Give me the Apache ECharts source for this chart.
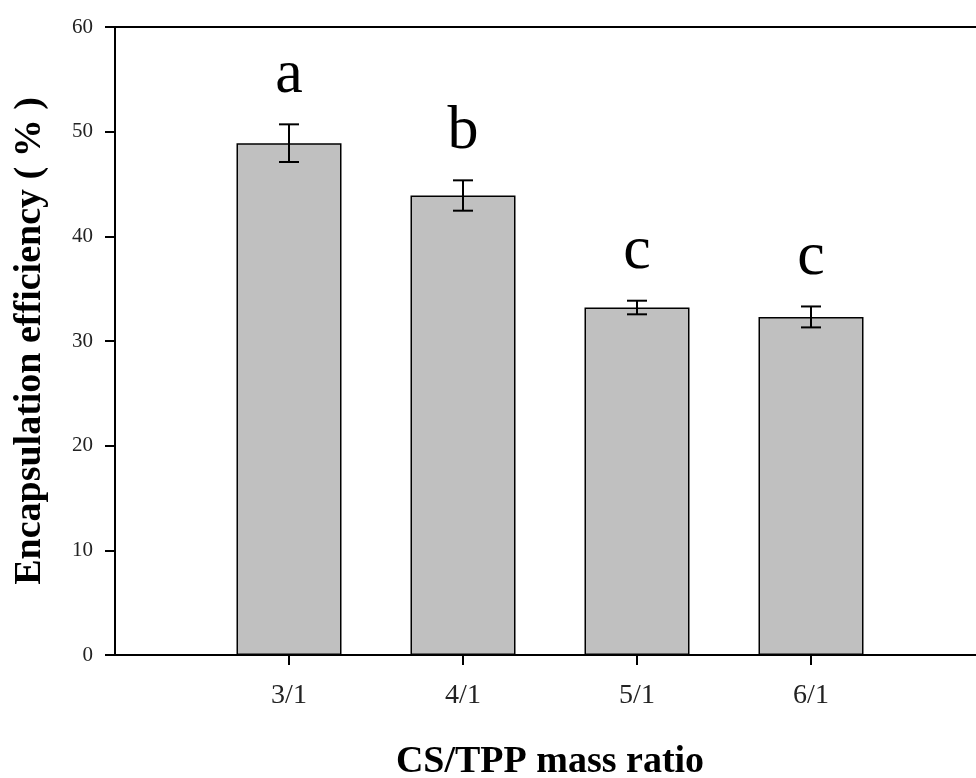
<!DOCTYPE html>
<html>
<head>
<meta charset="utf-8">
<script src="https://cdn.jsdelivr.net/npm/echarts@6/dist/echarts.min.js"></script>
<style>
  html, body { margin: 0; padding: 0; background: #fff; }
  #main { width: 976px; height: 778px; }
</style>
</head>
<body>
<div id="main"></div>
<script>
// CS/TPP mass ratio vs encapsulation efficiency
var categories = ['3/1', '4/1', '5/1', '6/1'];
var efficiency = [48.9, 43.9, 33.2, 32.3];
var errors = [1.8, 1.45, 0.65, 1.0];
var letters = ['a', 'b', 'c', 'c'];
var yTicks = [0, 10, 20, 30, 40, 50, 60];

var serif = 'Liberation Serif, Times New Roman, serif';

// empty slot on each side so the bars sit on ticks like the original plot
var axisData = [''].concat(categories, ['']);
var barData = ['-'].concat(efficiency, ['-']);
var errData = categories.map(function (c, i) {
    return [i + 1, efficiency[i], errors[i], letters[i]];
});

var chart = echarts.init(document.getElementById('main'));

var option = {
    backgroundColor: '#fff',
    animation: false,
    grid: {
        show: true,
        left: 115,
        right: -9,
        top: 27,
        bottom: 123,
        outerBoundsMode: 'none',
        containLabel: false,
        borderColor: '#000',
        borderWidth: 2,
        backgroundColor: 'transparent'
    },
    xAxis: {
        type: 'category',
        data: axisData,
        boundaryGap: false,
        name: 'CS/TPP mass ratio',
        nameLocation: 'middle',
        nameGap: 88,
        nameTextStyle: {
            fontFamily: serif,
            fontWeight: 'bold',
            fontSize: 38,
            color: '#000'
        },
        axisLine: { lineStyle: { color: '#000', width: 2 } },
        axisTick: {
            show: true,
            length: 10,
            inside: false,
            alignWithLabel: true,
            interval: function (index, value) { return value !== ''; },
            lineStyle: { color: '#000', width: 2 }
        },
        axisLabel: {
            interval: 0,
            margin: 27,
            fontFamily: serif,
            fontSize: 28,
            color: '#222'
        },
        splitLine: { show: false }
    },
    yAxis: {
        type: 'value',
        min: yTicks[0],
        max: yTicks[yTicks.length - 1],
        interval: yTicks[1] - yTicks[0],
        name: 'Encapsulation efficiency ( % )',
        nameLocation: 'middle',
        nameGap: 66,
        nameTextStyle: {
            fontFamily: serif,
            fontWeight: 'bold',
            fontSize: 38,
            color: '#000'
        },
        axisLine: { show: true, lineStyle: { color: '#000', width: 2 } },
        axisTick: { show: true, length: 10, inside: false, lineStyle: { color: '#000', width: 2 } },
        axisLabel: {
            margin: 22,
            fontFamily: serif,
            fontSize: 21,
            color: '#222'
        },
        splitLine: { show: false }
    },
    series: [
        {
            type: 'bar',
            data: barData,
            barWidth: 105,
            itemStyle: {
                color: '#c0c0c0',
                borderColor: '#000',
                borderWidth: 1.5
            },
            z: 2
        },
        {
            type: 'custom',
            data: errData,
            z: 3,
            renderItem: function (params, api) {
                var x = api.value(0);
                var mean = api.value(1);
                var sd = api.value(2);
                var top = api.coord([x, mean + sd]);
                var bot = api.coord([x, mean - sd]);
                var cap = 10;
                var st = { stroke: '#000', lineWidth: 2 };
                return {
                    type: 'group',
                    children: [
                        { type: 'line', shape: { x1: top[0], y1: top[1], x2: bot[0], y2: bot[1] }, style: st },
                        { type: 'line', shape: { x1: top[0] - cap, y1: top[1], x2: top[0] + cap, y2: top[1] }, style: st },
                        { type: 'line', shape: { x1: bot[0] - cap, y1: bot[1], x2: bot[0] + cap, y2: bot[1] }, style: st },
                        {
                            type: 'text',
                            x: top[0],
                            y: top[1] - 18,
                            style: {
                                text: api.value(3),
                                fontFamily: serif,
                                fontSize: 62,
                                fill: '#000',
                                align: 'center',
                                verticalAlign: 'bottom'
                            }
                        }
                    ]
                };
            }
        }
    ]
};

chart.setOption(option);
</script>
</body>
</html>
